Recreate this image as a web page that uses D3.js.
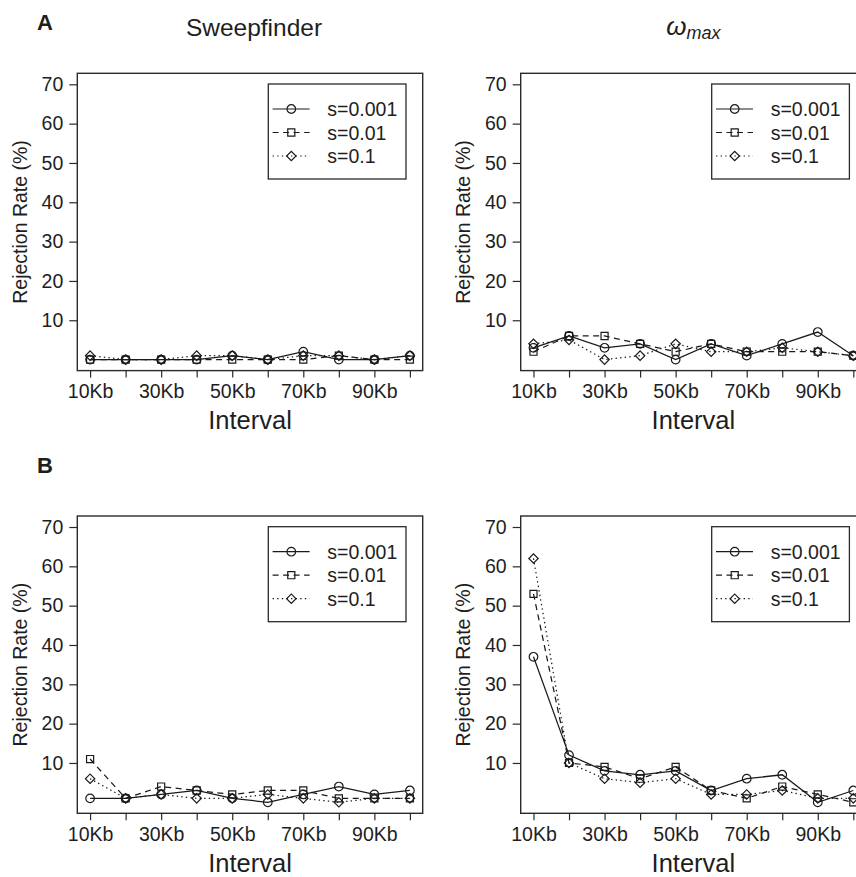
<!DOCTYPE html>
<html><head><meta charset="utf-8">
<script src="https://cdn.jsdelivr.net/npm/d3@7"></script>
<style>
body{margin:0;background:#fff}
text{font-family:Arial,"Liberation Sans",sans-serif;fill:#1e1e1e}
</style>
</head><body><svg id="c" width="856" height="877"></svg>
<script>
// ---- data ----
const intervals = ["10Kb","20Kb","30Kb","40Kb","50Kb","60Kb","70Kb","80Kb","90Kb","100Kb"];
const shownLabels = ["10Kb","30Kb","50Kb","70Kb","90Kb"];
const seriesNames = ["s=0.001","s=0.01","s=0.1"];
const yTicks = [10,20,30,40,50,60,70];

// Panel A, Sweepfinder
const sweepA_001 = [0,0,0,0,1,0,2,0,0,1];
const sweepA_01  = [0,0,0,0,0,0,0,1,0,0];
const sweepA_1   = [1,0,0,1,1,0,1,1,0,1];
// Panel A, omega max
const omegaA_001 = [3,6,3,4,0,4,1,4,7,1];
const omegaA_01  = [2,6,6,4,2,4,2,2,2,1];
const omegaA_1   = [4,5,0,1,4,2,2,3,2,1];
// Panel B, Sweepfinder
const sweepB_001 = [1,1,2,3,1,0,2,4,2,3];
const sweepB_01  = [11,1,4,3,2,3,3,1,1,1];
const sweepB_1   = [6,1,2,1,1,2,1,0,1,1];
// Panel B, omega max
const omegaB_001 = [37,12,8,7,8,3,6,7,0,3];
const omegaB_01  = [53,10,9,6,9,3,1,4,2,0];
const omegaB_1   = [62,10,6,5,6,2,2,3,1,1];

const panels = [
  {tag:"A", title:"sweep", col:0,row:0, series:[sweepA_001,sweepA_01,sweepA_1]},
  {tag:null,title:"omega", col:1,row:0, series:[omegaA_001,omegaA_01,omegaA_1]},
  {tag:"B", title:null,    col:0,row:1, series:[sweepB_001,sweepB_01,sweepB_1]},
  {tag:null,title:null,    col:1,row:1, series:[omegaB_001,omegaB_01,omegaB_1]}
];

// ---- layout ----
const colLeft = [77.3, 520.7], boxW = 345.4;
const rowTop = [73.3, 516], boxH = 297.3;
const ink = "#1a1a1a";
const dashes = [null, "6,4.5", "1.4,3.2"];
const symTypes = [d3.symbolCircle, d3.symbolSquare, d3.symbolSquare];
const symSizes = [58, 50, 44];
const symRot = [0, 0, 45];
const ff = "Arial,'Liberation Sans',sans-serif";

const svg = d3.select("#c");

function marker(g, i, x, y){
  g.append("path")
    .attr("d", d3.symbol().type(symTypes[i]).size(symSizes[i])())
    .attr("transform", `translate(${x},${y}) rotate(${symRot[i]})`)
    .attr("fill","none").attr("stroke",ink).attr("stroke-width",1.2);
}

panels.forEach(p=>{
  const x0 = colLeft[p.col], y0 = rowTop[p.row];
  const g = svg.append("g").attr("transform",`translate(${x0},${y0})`);
  const x = d3.scaleLinear().domain([-0.36, 9.36]).range([0, boxW]);
  const y = d3.scaleLinear().domain([-2.8, 72.8]).range([boxH, 0]);

  g.append("rect").attr("width",boxW).attr("height",boxH)
    .attr("fill","none").attr("stroke","#2a2a2a").attr("stroke-width",1.4);

  const ya = g.append("g").call(d3.axisLeft(y).tickValues(yTicks).tickSize(8).tickPadding(6));
  ya.select(".domain").remove();
  ya.selectAll("line").attr("stroke","#2a2a2a").attr("stroke-width",1.2);
  ya.selectAll("text").attr("font-size",19.5).attr("fill",ink).style("font-family",ff);

  const xa = g.append("g").attr("transform",`translate(0,${boxH})`)
    .call(d3.axisBottom(x).tickValues(d3.range(intervals.length)).tickSize(7).tickPadding(7)
      .tickFormat(i => shownLabels.includes(intervals[i]) ? intervals[i] : ""));
  xa.select(".domain").remove();
  xa.selectAll("line").attr("stroke","#2a2a2a").attr("stroke-width",1.2);
  xa.selectAll("text").attr("font-size",19.5).attr("fill",ink).style("font-family",ff);

  g.append("text").attr("x",boxW/2).attr("y",boxH+58.5).attr("text-anchor","middle")
    .attr("font-size",25.5).text("Interval");
  g.append("text").attr("transform",`translate(${-57.7},${boxH/2}) rotate(-90)`)
    .attr("text-anchor","middle").attr("dominant-baseline","central")
    .attr("font-size",19.5).text("Rejection Rate (%)");

  p.series.forEach((vals,i)=>{
    const line = d3.line().x((d,j)=>x(j)).y(d=>y(d));
    g.append("path").datum(vals).attr("d",line).attr("fill","none")
      .attr("stroke",ink).attr("stroke-width",1.25)
      .attr("stroke-dasharray",dashes[i]);
  });
  p.series.forEach((vals,i)=>{
    vals.forEach((v,j)=>marker(g,i,x(j),y(v)));
  });

  const lx = boxW - 16.7 - 137.7, ly = 10.7;
  const lg = g.append("g").attr("transform",`translate(${lx},${ly})`);
  lg.append("rect").attr("width",137.7).attr("height",95)
    .attr("fill","#fff").attr("stroke","#2a2a2a").attr("stroke-width",1.3);
  seriesNames.forEach((nm,i)=>{
    const yy = 25 + i*23.5;
    lg.append("line").attr("x1",4.3).attr("x2",41.3).attr("y1",yy).attr("y2",yy)
      .attr("stroke",ink).attr("stroke-width",1.2).attr("stroke-dasharray",dashes[i]);
    marker(lg,i,23,yy);
    lg.append("text").attr("x",59).attr("y",yy).attr("dominant-baseline","central")
      .attr("font-size",19.5).text(nm);
  });

  if(p.tag){
    svg.append("text").attr("x",37).attr("y",y0-43).attr("font-size",22)
      .attr("font-weight","bold").attr("fill","#000").text(p.tag);
  }
  if(p.title==="sweep"){
    svg.append("text").attr("x",x0+boxW/2+4).attr("y",36).attr("text-anchor","middle")
      .attr("font-size",24.5).text("Sweepfinder");
  } else if(p.title==="omega"){
    const t = svg.append("text").attr("x",x0+boxW/2).attr("y",35).attr("text-anchor","middle")
      .attr("font-size",26).attr("font-style","italic");
    t.append("tspan").text("ω");
    t.append("tspan").attr("font-size",18).attr("dy",4).text("max");
  }
});
</script>
</body></html>
